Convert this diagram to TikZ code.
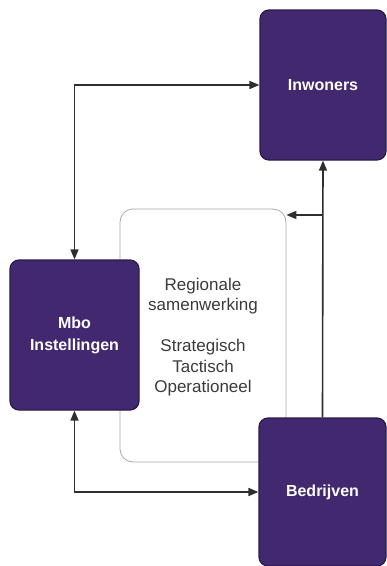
\documentclass[tikz,border=0pt]{standalone}
\usepackage{fontspec}
\setmainfont{Liberation Sans}
\usetikzlibrary{arrows.meta}
\definecolor{boxfill}{HTML}{42296F}
\definecolor{boxline}{HTML}{2A1A48}
\definecolor{txtgray}{HTML}{3A3A3A}
\definecolor{grpline}{HTML}{A8A8A8}
\definecolor{arrline}{HTML}{2E2E2E}
\tikzset{
  actor/.style={draw=boxline, line width=1.2pt, fill=boxfill, rounded corners=9pt,
    text=white, font=\fontsize{16}{22}\selectfont\bfseries, align=center,
    inner sep=0pt},
  group/.style={draw=grpline, line width=0.8pt, rounded corners=13pt, inner sep=0pt},
  link/.style={draw=arrline, line width=1.6pt, -{Triangle[length=10pt,width=8pt]}},
  dlink/.style={draw=arrline, line width=1.6pt, {Triangle[length=10pt,width=8pt]}-{Triangle[length=10pt,width=8pt]}},
}
\begin{document}
\begin{tikzpicture}[x=1pt,y=-1pt]
\useasboundingbox (0,0) rectangle (387,566);
% group box (behind)
\node[group, minimum width=166pt, minimum height=253pt] (grp) at (203,335.5) {};
\node[text=txtgray, align=center, font=\fontsize{17}{20.5}\selectfont] (rs) at (203,337)
  {Regionale\\samenwerking\\[20.5pt]Strategisch\\Tactisch\\Operationeel};
% actors
\node[actor, minimum width=126pt, minimum height=150pt] (inw) at (323,85) {Inwoners};
\node[actor, minimum width=129pt, minimum height=150pt] (mbo) at (74.5,335) {Mbo\\Instellingen};
\node[actor, minimum width=127pt, minimum height=148pt] (bed) at (322.5,492) {Bedrijven};
% connectors
\draw[dlink] (mbo.north) |- (inw.west);
\draw[dlink] (mbo.south) |- (bed.west);
\draw[link] (bed.north) -- (inw.south);
\coordinate (j) at (322.5,215);
\draw[link] (j) -- (grp.east |- j);
\end{tikzpicture}
\end{document}
